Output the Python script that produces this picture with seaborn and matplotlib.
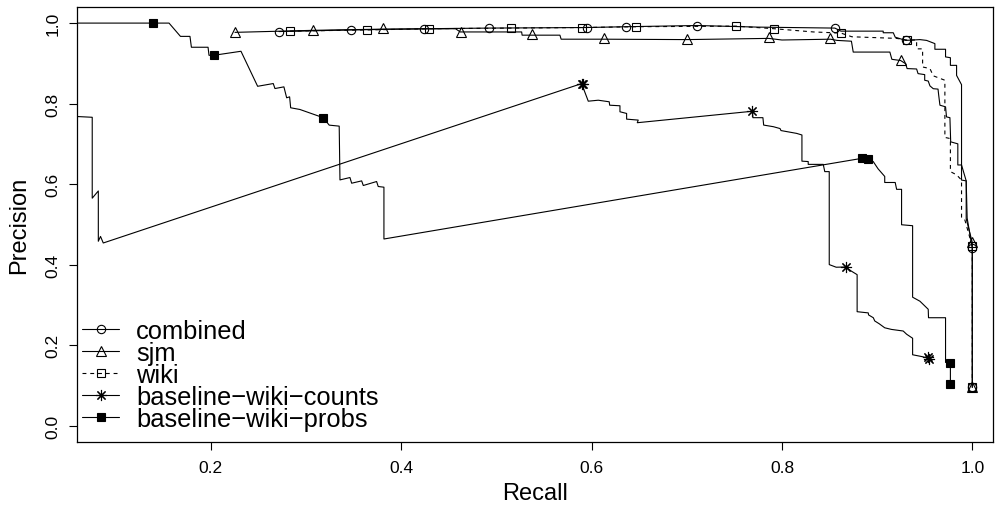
import matplotlib
matplotlib.use("Agg")
import matplotlib.pyplot as plt
from matplotlib.lines import Line2D
import seaborn as sns
import pandas as pd

# ---------------- data ----------------
series_names = ["combined", "sjm", "wiki", "baseline\u2212wiki\u2212counts", "baseline\u2212wiki\u2212probs"]

combined_recall = [0.2715, 0.347, 0.424, 0.4918, 0.5948, 0.636, 0.711, 0.775, 0.8556, 0.862, 0.9064, 0.9064,
                   0.917, 0.919, 0.930, 0.945, 0.952, 0.9607, 0.9607, 0.9719, 0.9719, 0.977, 0.977, 0.9835,
                   0.9835, 0.9887, 0.9887, 0.9936, 0.9946, 1.0, 1.0]
combined_precision = [0.979, 0.983, 0.986, 0.9876, 0.989, 0.991, 0.994, 0.990, 0.9876, 0.980, 0.980, 0.976,
                      0.976, 0.965, 0.957, 0.959, 0.957, 0.949, 0.935, 0.935, 0.916, 0.914, 0.895, 0.895,
                      0.870, 0.847, 0.6475, 0.608, 0.5156, 0.440, 0.095]
combined_mark_recall = [0.2715, 0.347, 0.424, 0.4918, 0.5948, 0.636, 0.711, 0.8556, 0.930, 1.0, 1.0]
combined_mark_precision = [0.979, 0.983, 0.986, 0.9876, 0.989, 0.991, 0.994, 0.9876, 0.957, 0.440, 0.095]

sjm_recall = [0.2253, 0.307, 0.381, 0.457, 0.462, 0.5265, 0.527, 0.5667, 0.568, 0.613, 0.700, 0.786, 0.800,
              0.851, 0.858, 0.873, 0.8749, 0.9134, 0.9155, 0.9247, 0.930, 0.9315, 0.9415, 0.943, 0.950,
              0.950, 0.9537, 0.9555, 0.959, 0.964, 0.9647, 0.966, 0.9719, 0.9729, 0.9765, 0.9773, 0.9848,
              0.9848, 0.9887, 0.9887, 0.9936, 0.9936, 1.0, 1.0]
sjm_precision = [0.977, 0.982, 0.985, 0.986, 0.978, 0.978, 0.970, 0.970, 0.960, 0.960, 0.959, 0.962, 0.958,
                 0.960, 0.957, 0.955, 0.928, 0.928, 0.910, 0.907, 0.899, 0.887, 0.886, 0.8745, 0.872,
                 0.858, 0.856, 0.844, 0.837, 0.836, 0.821, 0.796, 0.792, 0.767, 0.765, 0.705, 0.700,
                 0.6475, 0.6475, 0.610, 0.608, 0.514, 0.455, 0.095]
sjm_mark_recall = [0.2253, 0.307, 0.381, 0.4627, 0.5376, 0.613, 0.700, 0.786, 0.851, 0.9247, 1.0, 1.0]
sjm_mark_precision = [0.978, 0.984, 0.9876, 0.978, 0.972, 0.962, 0.961, 0.965, 0.9636, 0.9075, 0.455, 0.095]

wiki_recall = [0.283, 0.364, 0.429, 0.515, 0.590, 0.647, 0.7516, 0.792, 0.833, 0.862, 0.8735, 0.9205, 0.931,
               0.9415, 0.9415, 0.9478, 0.9478, 0.9555, 0.959, 0.9712, 0.9712, 0.977, 0.977, 0.9835, 0.9887,
               0.9887, 0.9922, 1.0, 1.0]
wiki_precision = [0.980, 0.983, 0.986, 0.9876, 0.989, 0.991, 0.9925, 0.986, 0.978, 0.9752, 0.966, 0.962, 0.958,
                  0.958, 0.936, 0.936, 0.891, 0.887, 0.869, 0.858, 0.716, 0.713, 0.631, 0.623, 0.610,
                  0.5156, 0.511, 0.445, 0.095]
wiki_mark_recall = [0.283, 0.364, 0.429, 0.515, 0.590, 0.647, 0.7516, 0.792, 0.862, 0.931, 1.0, 1.0]
wiki_mark_precision = [0.980, 0.983, 0.986, 0.9876, 0.989, 0.991, 0.9925, 0.986, 0.9752, 0.9587, 0.445, 0.095]

counts_recall = [0.05, 0.0753, 0.0753, 0.0817, 0.0817, 0.084, 0.0869, 0.5895, 0.5965, 0.607, 0.6185, 0.619,
                 0.6298, 0.6298, 0.6368, 0.6368, 0.649, 0.648, 0.769, 0.7695, 0.780, 0.7808, 0.791, 0.798,
                 0.799, 0.8154, 0.821, 0.821, 0.8276, 0.8276, 0.8434, 0.845, 0.8497, 0.8497, 0.857, 0.867,
                 0.873, 0.879, 0.879, 0.8907, 0.891, 0.896, 0.8975, 0.9022, 0.908, 0.915, 0.9274, 0.931,
                 0.9373, 0.9373, 0.948, 0.9544]
counts_precision = [0.769, 0.766, 0.565, 0.583, 0.458, 0.470, 0.4537, 0.8497, 0.806, 0.8084, 0.8045, 0.796,
                    0.7946, 0.7797, 0.7755, 0.7614, 0.759, 0.7525, 0.781, 0.765, 0.765, 0.7466, 0.7426, 0.738,
                    0.733, 0.726, 0.722, 0.657, 0.656, 0.649, 0.649, 0.631, 0.631, 0.400, 0.3935, 0.394,
                    0.3837, 0.375, 0.283, 0.280, 0.275, 0.268, 0.260, 0.253, 0.243, 0.239, 0.235, 0.227,
                    0.217, 0.176, 0.171, 0.1666]
counts_mark_recall = [0.5895, 0.5905, 0.769, 0.867, 0.953, 0.9544]
counts_mark_precision = [0.8497, 0.848, 0.781, 0.394, 0.170, 0.1666]

probs_recall = [0.05, 0.156, 0.168, 0.178, 0.1795, 0.197, 0.198, 0.203, 0.2316, 0.2491, 0.2655, 0.2673,
                0.2767, 0.2796, 0.2827, 0.2838, 0.2935, 0.318, 0.3243, 0.3348, 0.3356, 0.3461, 0.3479,
                0.3584, 0.3601, 0.3741, 0.3758, 0.3818, 0.3818, 0.884, 0.890, 0.8959, 0.901, 0.908, 0.908,
                0.919, 0.9205, 0.9257, 0.9257, 0.9373, 0.9373, 0.945, 0.9537, 0.954, 0.9719, 0.9719,
                0.977, 0.977]
probs_precision = [1.0, 1.0, 0.967, 0.967, 0.940, 0.940, 0.920, 0.920, 0.930, 0.843, 0.8498, 0.8374,
                   0.8416, 0.8144, 0.8168, 0.7896, 0.7854, 0.765, 0.7465, 0.744, 0.6104, 0.6163, 0.6022,
                   0.608, 0.5965, 0.6064, 0.594, 0.5923, 0.4636, 0.664, 0.662, 0.656, 0.638, 0.619, 0.604,
                   0.604, 0.587, 0.587, 0.499, 0.4966, 0.319, 0.309, 0.289, 0.268, 0.268, 0.157,
                   0.155, 0.103]
probs_mark_recall = [0.139, 0.203, 0.318, 0.884, 0.890, 0.977, 0.977]
probs_mark_precision = [1.0, 0.920, 0.765, 0.664, 0.662, 0.155, 0.103]

x_ticks = [0.2, 0.4, 0.6, 0.8, 1.0]
y_ticks = [0.0, 0.2, 0.4, 0.6, 0.8, 1.0]

# ---------------- style ----------------
sns.set_style("ticks")
plt.rcParams["font.family"] = ["Liberation Sans", "DejaVu Sans"]
plt.rcParams["text.color"] = "black"
plt.rcParams["axes.labelcolor"] = "black"
plt.rcParams["xtick.color"] = "black"
plt.rcParams["ytick.color"] = "black"

fig = plt.figure(figsize=(10.05, 5.06), dpi=100)
ax = fig.add_axes([0.0769, 0.1251, 0.9111, 0.8591])

LW = 0.8
series = [
    (combined_recall, combined_precision, combined_mark_recall, combined_mark_precision,
     dict(marker="o", mfc="none", ms=6.0), "-"),
    (sjm_recall, sjm_precision, sjm_mark_recall, sjm_mark_precision,
     dict(marker="^", mfc="none", ms=7.5), "-"),
    (wiki_recall, wiki_precision, wiki_mark_recall, wiki_mark_precision,
     dict(marker="s", mfc="none", ms=5.5), "--"),
    (counts_recall, counts_precision, counts_mark_recall, counts_mark_precision,
     dict(marker=(8, 2, 0), mfc="black", ms=8.0), "-"),
    (probs_recall, probs_precision, probs_mark_recall, probs_mark_precision,
     dict(marker="s", mfc="black", ms=6.2), "-"),
]

handles = []
for (rx, py, mx, my, mk, ls), name in zip(series, series_names):
    line_df = pd.DataFrame({"recall": rx, "precision": py})
    kw = dict(color="black", lw=LW)
    if ls == "--":
        kw["dashes"] = (3.5, 3.5)
    sns.lineplot(data=line_df, x="recall", y="precision", sort=False, estimator=None,
                 ax=ax, **kw)
    mark_df = pd.DataFrame({"recall": mx, "precision": my})
    sns.lineplot(data=mark_df, x="recall", y="precision", sort=False, estimator=None, ax=ax,
                 color="black", linestyle="none", marker=mk["marker"], markersize=mk["ms"],
                 markerfacecolor=mk["mfc"], markeredgecolor="black", markeredgewidth=LW)
    h = Line2D([], [], color="black", lw=LW, linestyle=ls, marker=mk["marker"],
               markersize=mk["ms"], markerfacecolor=mk["mfc"], markeredgecolor="black",
               markeredgewidth=LW)
    if ls == "--":
        h.set_dashes((3.5, 3.5))
    handles.append(h)

ax.set_xlim(0.0596, 1.0217)
ax.set_ylim(-0.04, 1.04)
ax.set_xticks(x_ticks)
ax.set_xticklabels([f"{t:.1f}" for t in x_ticks], fontsize=12.5)
ax.set_yticks(y_ticks)
ax.set_yticklabels([f"{t:.1f}" for t in y_ticks], fontsize=12.5, rotation=90, va="center")
ax.tick_params(direction="out", length=6, width=0.8, color="black", labelcolor="black", pad=7)
ax.tick_params(axis="y", pad=6)
for sp in ax.spines.values():
    sp.set_visible(True)
    sp.set_color("black")
    sp.set_linewidth(0.9)
ax.set_xlabel("Recall", fontsize=17, labelpad=5, color="black")
ax.set_ylabel("Precision", fontsize=17, labelpad=11, color="black")

leg = ax.legend(handles, series_names, loc="lower left", frameon=False, fontsize=18.4,
                handlelength=1.45, handletextpad=0.65, labelspacing=-0.07, borderpad=0.2,
                borderaxespad=0.0, bbox_to_anchor=(0.0, 0.012))
for t in leg.get_texts():
    t.set_color("black")

fig.savefig("out.png", dpi=100)
